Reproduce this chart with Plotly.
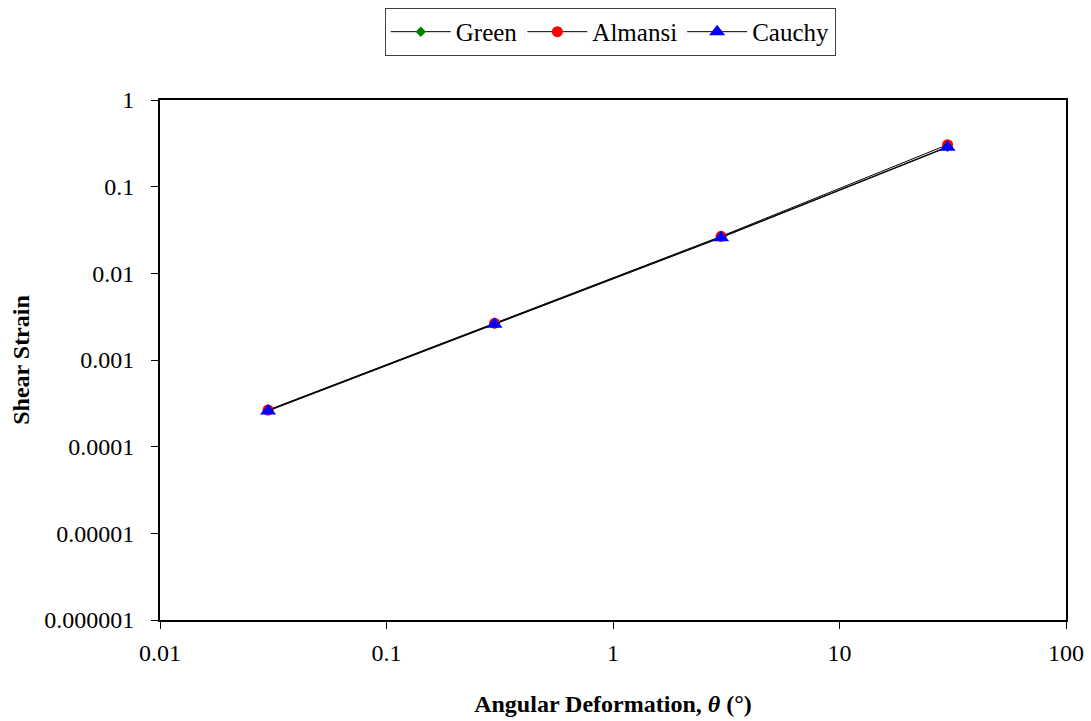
import plotly.graph_objects as go

theta = [0.03, 0.3, 3, 30]
green = [0.000262, 0.00262, 0.0262, 0.289]
almansi = [0.000265, 0.00266, 0.0267, 0.305]
cauchy = [0.000258, 0.00258, 0.0258, 0.285]

y_tickvals = [1, 0.1, 0.01, 0.001, 0.0001, 0.00001, 0.000001]
y_ticktext = ["1", "0.1", "0.01", "0.001", "0.0001", "0.00001", "0.000001"]
x_tickvals = [0.01, 0.1, 1, 10, 100]
x_ticktext = ["0.01", "0.1", "1", "10", "100"]

FONT = "Liberation Serif"

fig = go.Figure()
fig.add_trace(go.Scatter(x=theta, y=green, name="Green", mode="lines+markers",
                         line=dict(color="black", width=1),
                         marker=dict(symbol="diamond", size=8, color="#008000")))
fig.add_trace(go.Scatter(x=theta, y=almansi, name="Almansi", mode="lines+markers",
                         line=dict(color="black", width=1),
                         marker=dict(symbol="circle", size=11, color="#ff0000")))
fig.add_trace(go.Scatter(x=theta, y=cauchy, name="Cauchy", mode="lines+markers",
                         line=dict(color="black", width=1),
                         marker=dict(symbol="triangle-up", size=14, color="#0000ff")))

fig.update_layout(
    width=1091, height=721,
    margin=dict(l=160, r=25, t=100, b=101, autoexpand=False),
    paper_bgcolor="white", plot_bgcolor="white",
    font=dict(family=FONT, size=24, color="black"),
    legend=dict(orientation="h", x=0.497, xanchor="center", xref="paper",
                y=0.989, yanchor="top", yref="container",
                bordercolor="#404040", borderwidth=1, bgcolor="white",
                font=dict(family=FONT, size=25), traceorder="normal",
                itemwidth=60),
    showlegend=True,
)

fig.update_xaxes(type="log", range=[-2, 2], tickvals=x_tickvals, ticktext=x_ticktext,
                 ticks="outside", ticklen=7, tickcolor="black", tickwidth=1,
                 ticklabelstandoff=3, automargin=False,
                 showline=True, linecolor="black", linewidth=2, mirror=True,
                 showgrid=False, zeroline=False,
                 tickfont=dict(family=FONT, size=24),
                 title=dict(text="<b>Angular Deformation, <i>θ</i> (°)</b>",
                            font=dict(family=FONT, size=24), standoff=30))
fig.update_yaxes(type="log", range=[-6, 0], tickvals=y_tickvals, ticktext=y_ticktext,
                 ticks="outside", ticklen=7, tickcolor="black", tickwidth=1,
                 ticklabelstandoff=12, automargin=False,
                 showline=True, linecolor="black", linewidth=2, mirror=True,
                 showgrid=False, zeroline=False,
                 tickfont=dict(family=FONT, size=24),
                 title=dict(text="<b>Shear Strain</b>",
                            font=dict(family=FONT, size=24), standoff=8))

fig.write_html("out.html", config={"displayModeBar": False},
               post_script="document.body.style.margin='0';")
